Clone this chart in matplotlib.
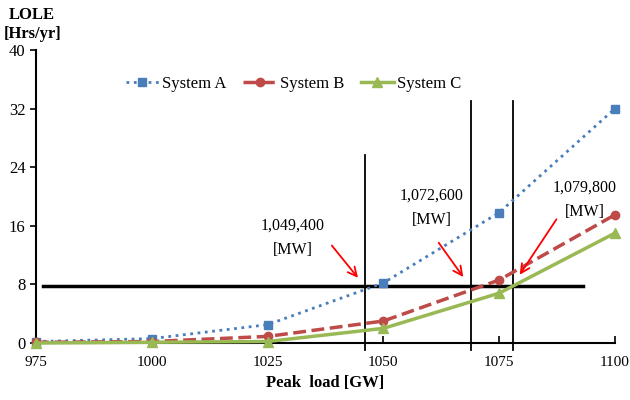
import matplotlib
matplotlib.use("Agg")
import matplotlib.pyplot as plt

# Peak load [GW] and LOLE [Hrs/yr] for each system
peak_load = [975, 1000, 1025, 1050, 1075, 1100]
lole_a = [0.2, 0.6, 2.5, 8.2, 17.8, 32.0]
lole_b = [0.1, 0.2, 0.9, 3.0, 8.6, 17.5]
lole_c = [0.0, 0.1, 0.2, 2.0, 6.8, 15.0]

# LOLE criterion line and crossing points
criterion = 7.8
criterion_span = [976.5, 1093]
cross_x = [1046, 1069, 1078]
cross_top = [25.6, 33, 33]
cross_labels = ["1,049,400\n[MW]", "1,072,600\n[MW]", "1,079,800\n[MW]"]
label_xy = [(1030.5, 14.3), (1060.5, 18.4), (1093.5, 19.5)]
arrow_from = [(1038.5, 13.6), (1061.6, 14.0), (1087.7, 17.2)]
arrow_to = [(1044.9, 8.6), (1067.6, 8.7), (1079.1, 9.0)]

y_ticks = [0, 8, 16, 24, 32, 40]

plt.rcParams['font.family'] = ['Liberation Serif', 'DejaVu Serif']

fig = plt.figure(figsize=(6.3, 4.0), dpi=100)
ax = fig.add_axes([0.0571, 0.1425, 0.919, 0.7325])

ax.plot(peak_load, lole_a, ':', color='#4a7ebb', lw=2, marker='s', ms=6,
        label='System A', clip_on=False, zorder=3)
ax.plot(peak_load, lole_b, '--', color='#be4b48', lw=2.5, marker='o', ms=6,
        label='System B', clip_on=False, zorder=3)
ax.plot(peak_load, lole_c, '-', color='#98b954', lw=2.5, marker='^', ms=7,
        label='System C', clip_on=False, zorder=3)

ax.plot(criterion_span, [criterion, criterion], color='black', lw=2.5, clip_on=False)
for x, top in zip(cross_x, cross_top):
    ax.plot([x, x], [-1.0, top], color='black', lw=1.3, clip_on=False)

for txt, xy, p0, p1 in zip(cross_labels, label_xy, arrow_from, arrow_to):
    ax.text(xy[0], xy[1], txt, ha='center', va='center', fontsize=11.5, linespacing=1.7)
    ax.annotate('', xy=p1, xytext=p0,
                arrowprops=dict(arrowstyle='->', color='red', lw=1.3, mutation_scale=16))

ax.set_xlim(975, 1100)
ax.set_ylim(0, 40)
ax.set_xticks(peak_load)
ax.set_yticks(y_ticks)
ax.tick_params(axis='x', direction='in', length=5, width=1.2, labelsize=11, pad=9)
ax.tick_params(axis='y', direction='out', length=4, width=1.2, labelsize=12)
for s in ['top', 'right']:
    ax.spines[s].set_visible(False)
for s in ['left', 'bottom']:
    ax.spines[s].set_linewidth(1.5)

ax.set_xlabel('Peak  load [GW]', fontsize=12, fontweight='bold', labelpad=5)
fig.text(0.051, 0.962, 'LOLE', ha='center', va='center', fontsize=12, fontweight='bold')
fig.text(0.051, 0.915, '[Hrs/yr]', ha='center', va='center', fontsize=12, fontweight='bold')

ax.legend(loc='center', bbox_to_anchor=(0.445, 0.885), ncol=3, frameon=False,
          fontsize=12, handlelength=2.0, handletextpad=0.2, columnspacing=1.0)

fig.savefig('out.png', dpi=100)
